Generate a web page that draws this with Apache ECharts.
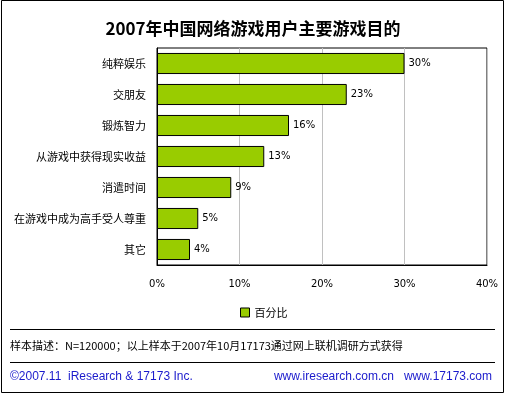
<!DOCTYPE html>
<html><head><meta charset="utf-8">
<script src="https://cdn.jsdelivr.net/npm/echarts@6/dist/echarts.min.js"></script>
<style>html,body{margin:0;padding:0;background:#fff}#c{width:506px;height:394px}</style>
</head><body><div id="c"></div>
<script>
var categories = ['纯粹娱乐','交朋友','锻炼智力','从游戏中获得现实收益','消遣时间','在游戏中成为高手受人尊重','其它'];
var values = [30, 23, 16, 13, 9, 5, 4];
var seriesName = '百分比';
var xTicks = [0, 10, 20, 30, 40];
var titleText = '2007年中国网络游戏用户主要游戏目的';
var noteText = '样本描述：N=120000；以上样本于2007年10月17173通过网上联机调研方式获得';
var copyText = '©2007.11  iResearch & 17173 Inc.';
var siteText = 'www.iresearch.com.cn   www.17173.com';

var cjk = '"Noto Sans CJK SC", "DejaVu Sans", sans-serif';
var num = '"DejaVu Sans", "Liberation Sans", sans-serif';
var lat = '"Liberation Sans", Arial, sans-serif';
var chart = echarts.init(document.getElementById('c'), null, {renderer:'canvas'});
chart.setOption({
  animation: false,
  backgroundColor: '#fff',
  title: {text: titleText, left: 'center', top: 15,
    textStyle: {fontFamily: cjk, fontSize: 17, fontWeight: 'bold', color: '#000'}},
  grid: {left: 157, top: 48, width: 330, height: 217, show: true, borderColor: '#000', borderWidth: 1, backgroundColor: 'transparent'},
  legend: {data: [seriesName], left: 235, top: 302, itemWidth: 9, itemHeight: 9, itemGap: 4,
    icon: 'rect', textStyle: {fontFamily: cjk, fontSize: 11, color: '#000'},
    itemStyle: {borderColor: '#000', borderWidth: 1}},
  xAxis: {type: 'value', min: xTicks[0], max: xTicks[xTicks.length-1], interval: 10,
    axisLine: {show: true, lineStyle: {color: '#000'}}, axisTick: {show: false},
    splitLine: {show: true, lineStyle: {color: '#c0c0c0', width: 1}},
    axisLabel: {formatter: '{value}%', margin: 14, fontFamily: num, fontSize: 10, color: '#000'}},
  yAxis: {type: 'category', data: categories, inverse: true,
    axisLine: {show: true, lineStyle: {color: '#000'}}, axisTick: {show: false},
    axisLabel: {margin: 11, fontFamily: cjk, fontSize: 11, color: '#000'}},
  series: [{name: seriesName, type: 'bar', data: values, barCategoryGap: '32%',
    itemStyle: {color: '#99cc00', borderColor: '#000', borderWidth: 1},
    label: {show: true, position: 'right', distance: 4, formatter: '{c}%', fontFamily: num, fontSize: 10, color: '#000'}}],
  graphic: [
    {type: 'rect', shape: {x: 1.5, y: 0.5, width: 502, height: 392}, style: {fill: 'none', stroke: '#000', lineWidth: 1}, silent: true},
    {type: 'line', shape: {x1: 10, y1: 329.5, x2: 495, y2: 329.5}, style: {stroke: '#000', lineWidth: 1}},
    {type: 'line', shape: {x1: 10, y1: 362.5, x2: 495, y2: 362.5}, style: {stroke: '#000', lineWidth: 1}},
    {type: 'text', left: 10, top: 340, style: {text: noteText, font: '11px ' + cjk, fill: '#000'}},
    {type: 'text', left: 10, top: 371, style: {text: copyText, font: '12px ' + lat, fill: '#1a1acc'}},
    {type: 'text', right: 14, top: 371, style: {text: siteText, font: '12px ' + lat, fill: '#1a1acc'}}
  ]
});
</script></body></html>
